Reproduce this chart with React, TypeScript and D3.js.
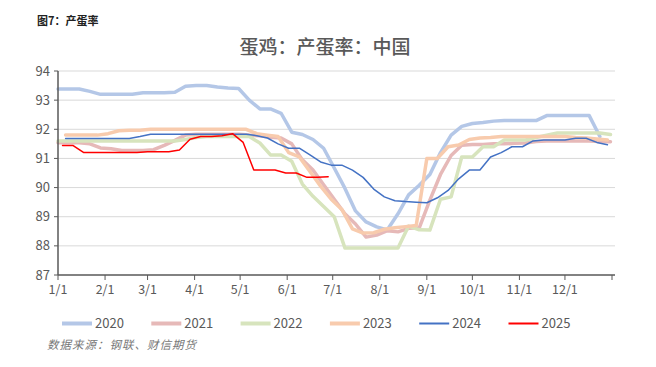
import React from "react";
import * as d3 from "d3";

// weekly laying rate readings, one array per year
const years = ["2020", "2021", "2022", "2023", "2024", "2025"];
const startDays = [0, 0, 0, 5, 5, 3];

const rate2020 = [93.38, 93.38, 93.38, 93.3, 93.2, 93.2, 93.2, 93.2, 93.25, 93.25, 93.25, 93.27, 93.48, 93.5, 93.5, 93.45, 93.42, 93.4, 93.0, 92.7, 92.7, 92.55, 91.9, 91.82, 91.65, 91.35, 90.67, 89.98, 89.2, 88.82, 88.65, 88.55, 89.1, 89.75, 90.08, 90.45, 91.2, 91.8, 92.1, 92.2, 92.23, 92.28, 92.3, 92.3, 92.3, 92.3, 92.47, 92.47, 92.47, 92.47, 92.47, 91.75];
const rate2021 = [91.54, 91.54, 91.54, 91.5, 91.36, 91.33, 91.27, 91.27, 91.27, 91.3, 91.45, 91.62, 91.8, 91.83, 91.83, 91.83, 91.83, 91.83, 91.8, 91.78, 91.73, 91.7, 91.5, 90.95, 90.6, 90.1, 89.6, 89.1, 88.75, 88.3, 88.37, 88.52, 88.48, 88.6, 88.62, 89.57, 90.45, 91.1, 91.45, 91.48, 91.48, 91.5, 91.5, 91.52, 91.53, 91.58, 91.6, 91.6, 91.6, 91.6, 91.6, 91.58, 91.57];
const rate2022 = [91.6, 91.6, 91.6, 91.6, 91.6, 91.6, 91.6, 91.6, 91.6, 91.6, 91.6, 91.6, 91.65, 91.72, 91.75, 91.75, 91.75, 91.75, 91.75, 91.53, 91.12, 91.12, 90.9, 90.12, 89.7, 89.35, 89.0, 87.93, 87.93, 87.93, 87.93, 87.93, 87.93, 88.68, 88.55, 88.54, 89.6, 89.68, 91.05, 91.05, 91.4, 91.4, 91.63, 91.63, 91.63, 91.72, 91.8, 91.87, 91.87, 91.87, 91.87, 91.87, 91.82];
const rate2023 = [91.8, 91.8, 91.8, 91.8, 91.85, 91.95, 91.97, 91.97, 92.0, 92.0, 92.0, 92.0, 92.0, 92.0, 92.0, 92.0, 92.0, 92.0, 91.85, 91.8, 91.75, 91.2, 91.05, 90.55, 90.05, 89.6, 89.25, 88.58, 88.44, 88.45, 88.57, 88.62, 88.66, 88.7, 91.0, 91.0, 91.4, 91.46, 91.65, 91.7, 91.72, 91.75, 91.75, 91.75, 91.75, 91.75, 91.75, 91.75, 91.72, 91.7, 91.67, 91.63];
const rate2024 = [91.68, 91.68, 91.68, 91.68, 91.68, 91.68, 91.68, 91.75, 91.83, 91.83, 91.83, 91.83, 91.83, 91.83, 91.83, 91.83, 91.83, 91.83, 91.78, 91.7, 91.5, 91.35, 91.35, 91.12, 90.88, 90.77, 90.77, 90.6, 90.35, 89.95, 89.68, 89.55, 89.52, 89.5, 89.48, 89.65, 89.9, 90.3, 90.6, 90.6, 91.05, 91.2, 91.4, 91.4, 91.6, 91.63, 91.63, 91.63, 91.69, 91.69, 91.55, 91.47];
const rate2025 = [91.44, 91.44, 91.2, 91.2, 91.2, 91.2, 91.2, 91.2, 91.23, 91.23, 91.23, 91.29, 91.66, 91.75, 91.75, 91.78, 91.85, 91.55, 90.6, 90.6, 90.6, 90.5, 90.5, 90.35, 90.35, 90.37];

const series = [rate2020, rate2021, rate2022, rate2023, rate2024, rate2025];
const colors = ["#B4C7E7", "#E6B9B8", "#D7E4BD", "#F8CBAD", "#4472C4", "#FF0000"];
const widths = [3.5, 3.5, 3.5, 3.5, 1.5, 1.5];

const monthStarts = [0, 31, 59, 90, 120, 151, 181, 212, 243, 273, 304, 334, 365];
const monthLabels = ["1/1", "2/1", "3/1", "4/1", "5/1", "6/1", "7/1", "8/1", "9/1", "10/1", "11/1", "12/1"];
const yTicks = [87, 88, 89, 90, 91, 92, 93, 94];

const W = 656;
const H = 367;
const font = "'Noto Sans CJK SC', 'Noto Sans', sans-serif";

export default function App() {
  const x = d3.scaleLinear().domain([0, 365]).range([58, 612]);
  const y = d3.scaleLinear().domain([87, 94]).range([275, 71]);

  const line = d3
    .line<[number, number]>()
    .x((d) => x(d[0]))
    .y((d) => y(d[1]));

  const paths = series.map((vals, i) =>
    line(vals.map((v, k) => [startDays[i] + k * 7, v] as [number, number]))
  );

  return (
    <div style={{ position: "absolute", left: 0, top: 0 }}>
      <svg width={W} height={H} style={{ display: "block", background: "#fff" }}>
        <text x={37} y={25} fontFamily={font} fontSize={11} fontWeight="bold" fill="#222">
          图7：产蛋率
        </text>
        <text x={325} y={54} textAnchor="middle" fontFamily={font} fontSize={19} fontWeight={500} fill="#595959">
          蛋鸡：产蛋率：中国
        </text>

        {yTicks.filter((t) => t > 87).map((t) => (
          <line key={t} x1={58} x2={615} y1={y(t)} y2={y(t)} stroke="#D9D9D9" strokeWidth={1} />
        ))}

        {paths.map((d, i) => (
          <path
            key={years[i]}
            d={d ?? ""}
            fill="none"
            stroke={colors[i]}
            strokeWidth={widths[i]}
            strokeLinejoin="round"
            strokeLinecap="round"
          />
        ))}

        <line x1={58} x2={58} y1={71} y2={275} stroke="#595959" strokeWidth={1.5} />
        {yTicks.map((t) => (
          <g key={t}>
            <line x1={54} x2={58} y1={y(t)} y2={y(t)} stroke="#595959" />
            <text x={50} y={y(t) + 4.5} textAnchor="end" fontFamily={font} fontSize={13} fill="#595959">
              {t}
            </text>
          </g>
        ))}

        <line x1={58} x2={615} y1={275} y2={275} stroke="#595959" strokeWidth={1.5} />
        {monthStarts.map((m) => (
          <line key={m} x1={x(m)} x2={x(m)} y1={275} y2={280} stroke="#595959" />
        ))}
        {monthLabels.map((lab, i) => (
          <text key={lab} x={x(monthStarts[i])} y={294} textAnchor="middle" fontFamily={font} fontSize={12.5} fill="#595959">
            {lab}
          </text>
        ))}

        {years.map((yr, i) => {
          const lx = 62 + i * 89.3;
          return (
            <g key={yr}>
              <line x1={lx} x2={lx + 30} y1={323.5} y2={323.5} stroke={colors[i]} strokeWidth={widths[i] > 2 ? 4 : 2} />
              <text x={lx + 33} y={328} fontFamily={font} fontSize={13} fill="#595959">
                {yr}
              </text>
            </g>
          );
        })}

        <text x={47} y={349} fontFamily={font} fontSize={11.5} fontStyle="italic" letterSpacing={1} fill="#777">
          数据来源：钢联、财信期货
        </text>
      </svg>
    </div>
  );
}
